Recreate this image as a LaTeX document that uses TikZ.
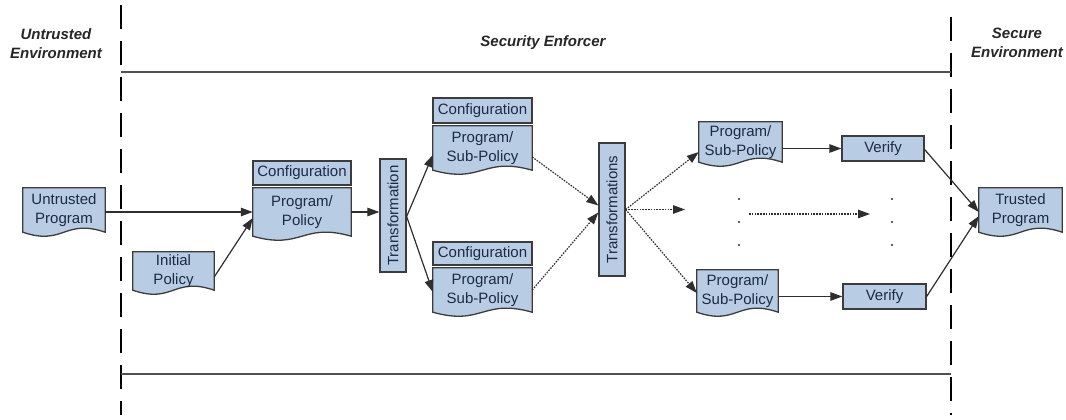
\documentclass[tikz,border=0pt]{standalone}
\usepackage{fontspec}
\usepackage{graphicx}
\setmainfont{Liberation Sans}
\usetikzlibrary{calc,arrows.meta,backgrounds}
\definecolor{boxfill}{HTML}{B8CCE4}
\definecolor{boxline}{HTML}{3C3C3C}
\definecolor{txt}{HTML}{1C2B45}
\definecolor{arrcol}{HTML}{2E2E2E}
\definecolor{hdrcol}{HTML}{262626}
\tikzset{
  base/.style={inner sep=0pt, text=txt, align=center, font=\fontsize{15}{19}\selectfont},
  doc/.style={base, draw=none, fill=none},
  cfg/.style={base, draw=boxline, line width=1.6pt, fill=boxfill},
  plainbox/.style={base, draw=boxline, line width=1.3pt, fill=boxfill},
  docline/.style={draw=boxline, line width=1.3pt, fill=boxfill},
  hdr/.style={inner sep=0pt, text=hdrcol, align=center, font=\fontsize{15}{19}\selectfont\bfseries\itshape},
  arr/.style={draw=arrcol, line width=1.2pt, -{Triangle[length=12pt,width=8.5pt]}},
  darr/.style={arr, dash pattern=on 1.6pt off 1.2pt},
  vdash/.style={draw=black, line width=1.2pt, dash pattern=on 24pt off 12pt},
  hline/.style={draw=hdrcol!80, line width=2pt},
  dotmark/.style={fill=hdrcol}
}
\newcommand{\docshape}[1]{%
  \filldraw[docline] (#1.north west) -- (#1.north east) -- (#1.south east)
   .. controls ($(#1.south)+(0pt,14pt)$) and ($(#1.south)+(0pt,-14pt)$) .. (#1.south west) -- cycle;}
\begin{document}
\begin{tikzpicture}[x=1pt,y=-1pt]
\useasboundingbox (0,0) rectangle (1066,420);

% environment boundaries
\draw[vdash] (121,5) -- (121,415);
\draw[vdash] (951,17) -- (951,415);
\draw[hline] (121,72) -- (951,72);
\draw[hline] (121,374) -- (951,374);

% headers
\node[hdr] (ue) at (56,44) {Untrusted\\Environment};
\node[hdr] (se) at (543,43) {Security Enforcer};
\node[hdr] (sec) at (1017,43) {Secure\\Environment};

% documents (text nodes; shapes on background)
\node[doc, minimum width=82pt, minimum height=44pt] (up) at (64,210) {Untrusted\\Program};
\node[doc, minimum width=81pt, minimum height=38pt] (ip) at (173.5,271) {Initial\\Policy};
\node[cfg, minimum width=98pt, minimum height=24pt] (c1) at (302,173) {Configuration};
\node[doc, minimum width=98pt, minimum height=48pt] (pp) at (302,212) {Program/\\Policy};
\node[plainbox, minimum width=26pt, minimum height=113pt] (tr) at (393,215.5) {\rotatebox{90}{Transformation}};
\node[cfg, minimum width=99pt, minimum height=25pt] (c2) at (482.5,110.5) {Configuration};
\node[doc, minimum width=99pt, minimum height=44pt] (d2) at (482.5,148) {Program/\\Sub-Policy};
\node[cfg, minimum width=99pt, minimum height=23pt] (c3) at (482.5,253.5) {Configuration};
\node[doc, minimum width=99pt, minimum height=44pt] (d3) at (482.5,290) {Program/\\Sub-Policy};
\node[plainbox, minimum width=26pt, minimum height=133pt] (trs) at (612,209.5) {\rotatebox{90}{Transformations}};
\node[doc, minimum width=83pt, minimum height=40pt] (rd1) at (740.5,142) {Program/\\Sub-Policy};
\node[doc, minimum width=81pt, minimum height=42pt] (rd2) at (737.5,291) {Program/\\Sub-Policy};
\node[plainbox, minimum width=82pt, minimum height=25pt] (v1) at (883,148.5) {Verify};
\node[plainbox, minimum width=83pt, minimum height=25pt] (v2) at (884.5,296.5) {Verify};
\node[doc, minimum width=83pt, minimum height=44pt] (tp) at (1020.5,210) {Trusted\\Program};

\begin{pgfonlayer}{background}
\docshape{up}
\docshape{ip}
\docshape{pp}
\docshape{d2}
\docshape{d3}
\docshape{rd1}
\docshape{rd2}
\docshape{tp}
\end{pgfonlayer}

% helper coordinates
\coordinate (mid) at (685,209.5);
\coordinate (dl) at (749,214);
\coordinate (dr) at (870,214);

% solid connectors
\draw[arr] (up.east |- pp.west) -- (pp.west);
\draw[arr] ([yshift=-6pt]ip.east) -- ([yshift=-6pt]pp.west);
\draw[arr] (pp.east) -- (tr.west |- pp.east);
\draw[arr] ([yshift=-1pt]tr.east) -- ([yshift=-7pt]d2.west);
\draw[arr] ([yshift=-1pt]tr.east) -- ([yshift=-2pt]d3.west);
\draw[arr] (rd1.east |- v1.west) -- (v1.west);
\draw[arr] (rd2.east |- v2.west) -- (v2.west);
\draw[arr] ([yshift=-1pt]v1.east) -- ([yshift=-2pt]tp.west);
\draw[arr] (v2.east) -- ([yshift=-6pt]tp.west);

% dotted connectors
\draw[darr] ([yshift=-9pt]d2.east) -- ([yshift=4pt]trs.west);
\draw[darr] (d3.east) -- ([yshift=-3pt]trs.west);
\draw[darr] (trs.east) -- ([yshift=-10pt]rd1.west);
\draw[darr] (trs.east) -- (mid);
\draw[darr] (trs.east) -- ([yshift=-2pt]rd2.west);
\draw[darr] (dl) -- (dr);

% ellipsis dots
\foreach \x in {739,892}{
  \foreach \y in {199,222,245}{
    \fill[dotmark] (\x,\y) circle (1.2pt);
  }
}
\end{tikzpicture}
\end{document}
